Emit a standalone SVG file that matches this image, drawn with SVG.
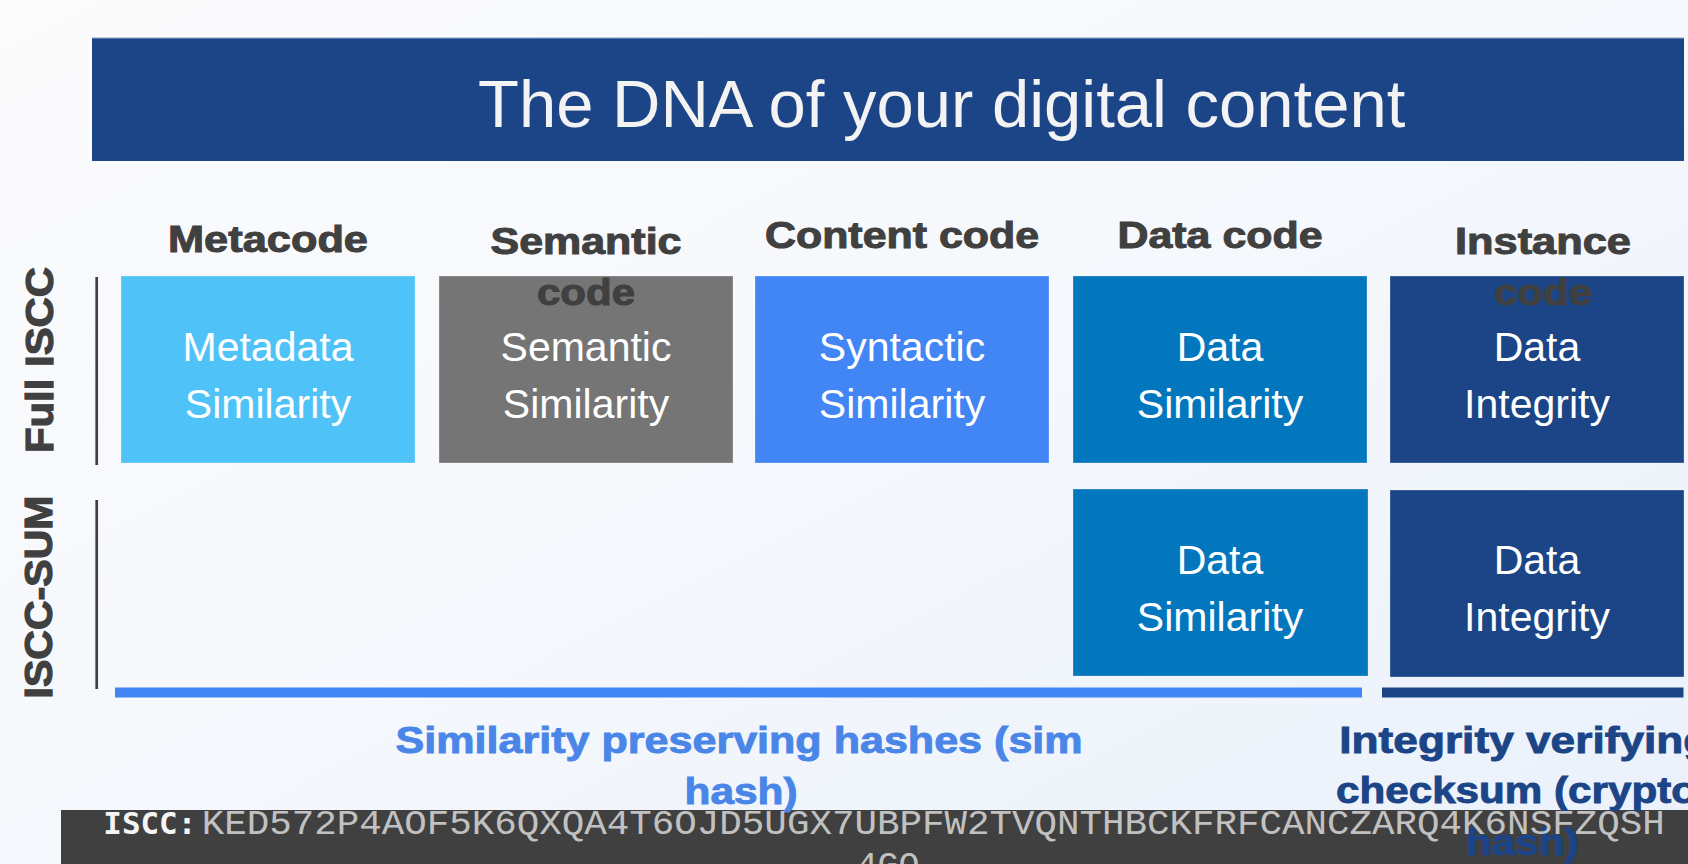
<svg xmlns="http://www.w3.org/2000/svg" width="1688" height="864" viewBox="0 0 1688 864">
  <defs>
    <linearGradient id="bg" x1="0" y1="0" x2="1" y2="1">
      <stop offset="0" stop-color="#fbfbfc"/>
      <stop offset="0.5" stop-color="#f5f8fc"/>
      <stop offset="1" stop-color="#eaf1fb"/>
    </linearGradient>
    <style>
      .box { stroke: rgba(255,255,255,0.28); stroke-width: 1; }
      .boxtxt { font-family: "Liberation Sans", Arial, sans-serif; font-size: 41px; fill: #ffffff; text-anchor: middle; }
      .hdr { font-family: "Liberation Sans", Arial, sans-serif; font-weight: bold; font-size: 36.5px; fill: #404040; stroke: #404040; stroke-width: 1; text-anchor: middle; }
      .rowlbl { font-family: "Liberation Sans", Arial, sans-serif; font-weight: bold; font-size: 39px; fill: #404040; stroke: #404040; stroke-width: 1.2; text-anchor: middle; }
      .sim { font-family: "Liberation Sans", Arial, sans-serif; font-weight: bold; font-size: 36.5px; fill: #4a86e8; stroke: #4a86e8; stroke-width: 0.9; }
      .crypt { font-family: "Liberation Sans", Arial, sans-serif; font-weight: bold; font-size: 36.5px; fill: #1c4587; stroke: #1c4587; stroke-width: 0.9; }
      .rule { stroke: #404040; stroke-width: 2.7; }
    </style>
  </defs>

  <rect x="0" y="0" width="1688" height="864" fill="url(#bg)"/>

  <g id="title">
    <rect x="92" y="38" width="1592" height="123" fill="#1c4587"/>
    <line x1="92" y1="38" x2="1684" y2="38" stroke="#8fa3c9" stroke-width="1"/>
    <text x="478" y="126.7" font-family="Liberation Sans, Arial, sans-serif" font-size="67" fill="#f3f3f3">The DNA of your digital content</text>
  </g>

  <g id="row-labels">
    <text class="rowlbl" transform="translate(52.5,360) rotate(-90)" textLength="186" lengthAdjust="spacingAndGlyphs">Full ISCC</text>
    <text class="rowlbl" transform="translate(52,597) rotate(-90)" textLength="203" lengthAdjust="spacingAndGlyphs">ISCC-SUM</text>
    <line class="rule" x1="96.7" y1="277" x2="96.7" y2="465"/>
    <line class="rule" x1="96.7" y1="500" x2="96.7" y2="689"/>
  </g>

  <g id="headers">
    <text class="hdr" x="268" y="252.3" textLength="200" lengthAdjust="spacingAndGlyphs">Metacode</text>
    <text class="hdr" x="902" y="248.3" textLength="274" lengthAdjust="spacingAndGlyphs">Content code</text>
    <text class="hdr" x="1220" y="248.3" textLength="205" lengthAdjust="spacingAndGlyphs">Data code</text>
  </g>

  <g id="node-metadata">
    <rect class="box" x="121" y="276" width="294" height="187" fill="#4fc3f7"/>
    <text class="boxtxt" x="268" y="361">Metadata</text>
    <text class="boxtxt" x="268" y="418.3">Similarity</text>
  </g>

  <g id="node-semantic">
    <rect class="box" x="439" y="276" width="294" height="187" fill="#757575"/>
    <text class="hdr" x="586" y="254" textLength="191" lengthAdjust="spacingAndGlyphs">Semantic</text>
    <text class="hdr" x="586" y="305" textLength="98" lengthAdjust="spacingAndGlyphs">code</text>
    <text class="boxtxt" x="586" y="361">Semantic</text>
    <text class="boxtxt" x="586" y="418.3">Similarity</text>
  </g>

  <g id="node-syntactic">
    <rect class="box" x="755" y="276" width="294" height="187" fill="#4285f4"/>
    <text class="boxtxt" x="902" y="361">Syntactic</text>
    <text class="boxtxt" x="902" y="418.3">Similarity</text>
  </g>

  <g id="node-data">
    <rect class="box" x="1073" y="276" width="294" height="187" fill="#0277bd"/>
    <text class="boxtxt" x="1220" y="361">Data</text>
    <text class="boxtxt" x="1220" y="418.3">Similarity</text>
  </g>

  <g id="node-instance">
    <rect class="box" x="1390" y="276" width="294" height="187" fill="#1c4587"/>
    <text class="hdr" x="1543" y="254" textLength="176" lengthAdjust="spacingAndGlyphs">Instance</text>
    <text class="hdr" x="1543" y="305" textLength="98" lengthAdjust="spacingAndGlyphs">code</text>
    <text class="boxtxt" x="1537" y="361">Data</text>
    <text class="boxtxt" x="1537" y="418.3">Integrity</text>
  </g>

  <g id="node-sum-data">
    <rect class="box" x="1073" y="489" width="295" height="187" fill="#0277bd"/>
    <text class="boxtxt" x="1220" y="574">Data</text>
    <text class="boxtxt" x="1220" y="631.3">Similarity</text>
  </g>

  <g id="node-sum-instance">
    <rect class="box" x="1390" y="490" width="294" height="187" fill="#1c4587"/>
    <text class="boxtxt" x="1537" y="574">Data</text>
    <text class="boxtxt" x="1537" y="631.3">Integrity</text>
  </g>

  <g id="connectors">
    <rect x="115" y="687.5" width="1247" height="10" fill="#4285f4"/>
    <rect x="1382" y="687.5" width="301.5" height="10" fill="#1c4587"/>
  </g>

  <g id="footer-bar">
    <rect x="61" y="810" width="1627" height="54" fill="#404040"/>
  </g>

  <g id="bracket-labels">
    <text class="sim" x="395.6" y="752.7" textLength="687" lengthAdjust="spacingAndGlyphs">Similarity preserving hashes (sim</text>
    <text class="sim" x="684.6" y="803.8" textLength="113" lengthAdjust="spacingAndGlyphs">hash)</text>
    <text class="crypt" x="1339.3" y="752.7" textLength="371" lengthAdjust="spacingAndGlyphs">Integrity verifying</text>
    <text class="crypt" x="1336" y="802.5" textLength="361" lengthAdjust="spacingAndGlyphs">checksum (crypto</text>
    <text class="crypt" x="1465.7" y="854.5" textLength="113" lengthAdjust="spacingAndGlyphs">hash)</text>
  </g>

  <g id="footer-code">
    <text x="103.3" y="834.3" font-family="DejaVu Sans Mono, monospace" font-weight="bold" font-size="30.5" fill="#f5f5f5" textLength="93" lengthAdjust="spacingAndGlyphs">ISCC:</text>
    <text x="201.7" y="834.3" font-family="Liberation Mono, Courier New, monospace" font-size="35" fill="#e6e6e6" fill-opacity="0.8" textLength="1463" lengthAdjust="spacingAndGlyphs">KED572P4AOF5K6QXQA4T6OJD5UGX7UBPFW2TVQNTHBCKFRFCANCZARQ4K6NSFZQSH</text>
    <text x="888" y="876" font-family="Liberation Mono, Courier New, monospace" font-size="35" fill="#e6e6e6" fill-opacity="0.8" text-anchor="middle">4GQ</text>
  </g>
</svg>
